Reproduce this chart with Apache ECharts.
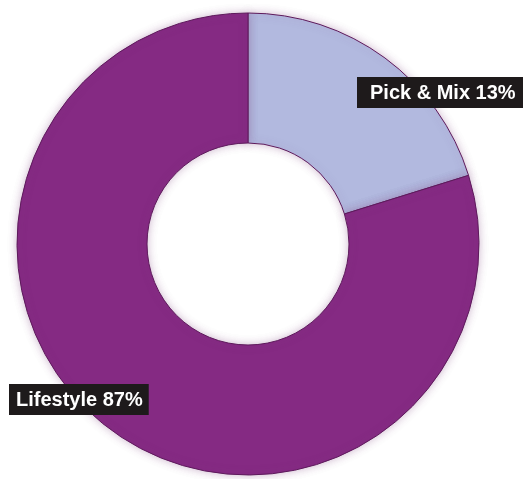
<!DOCTYPE html>
<html>
<head>
<meta charset="utf-8">
<script src="https://cdn.jsdelivr.net/npm/echarts@6/dist/echarts.min.js"></script>
<style>html,body{margin:0;padding:0;background:#fff;}#c{width:523px;height:479px;}</style>
</head>
<body>
<div id="c"></div>
<script>
// Categories and values
const categories = ['Pick & Mix', 'Lifestyle'];
// printed percentages on the labels
const labelPercents = [13, 87];
// slice shares as drawn in the picture (measured from the arc geometry)
const sliceShares = [20.2, 79.8];
const colors = ['#b2b9df', '#852a83'];

const chart = echarts.init(document.getElementById('c'), null, {renderer: 'canvas'});
const labelText = categories.map((c, i) => c + ' ' + labelPercents[i] + '%');

chart.setOption({
  backgroundColor: '#ffffff',
  animation: false,
  series: [
    {
      type: 'pie',
      center: [248, 244],
      radius: [101, 231],
      startAngle: 90,
      clockwise: true,
      silent: true,
      z: 1,
      label: {show: false},
      labelLine: {show: false},
      itemStyle: {
        borderColor: '#5e1a5c',
        borderWidth: 1,
        shadowBlur: 8,
        shadowColor: 'rgba(120,60,120,0.35)'
      },
      data: categories.map((c, i) => ({
        name: c,
        value: sliceShares[i],
        itemStyle: {color: colors[i]}
      }))
    }
  ],
  graphic: {
    elements: [
      {
        type: 'text',
        left: 357, top: 77,
        z: 100, zlevel: 1,
        style: {
          text: labelText[0],
          fill: '#ffffff',
          font: 'bold 20px "Liberation Sans", Arial, sans-serif',
          backgroundColor: '#1e1a1b',
          padding: [6, 9, 5, 13]
        }
      },
      {
        type: 'text',
        left: 9, top: 384,
        z: 100, zlevel: 1,
        style: {
          text: labelText[1],
          fill: '#ffffff',
          font: 'bold 20px "Liberation Sans", Arial, sans-serif',
          backgroundColor: '#1e1a1b',
          padding: [6, 6, 5, 7]
        }
      }
    ]
  }
});
</script>
</body>
</html>
